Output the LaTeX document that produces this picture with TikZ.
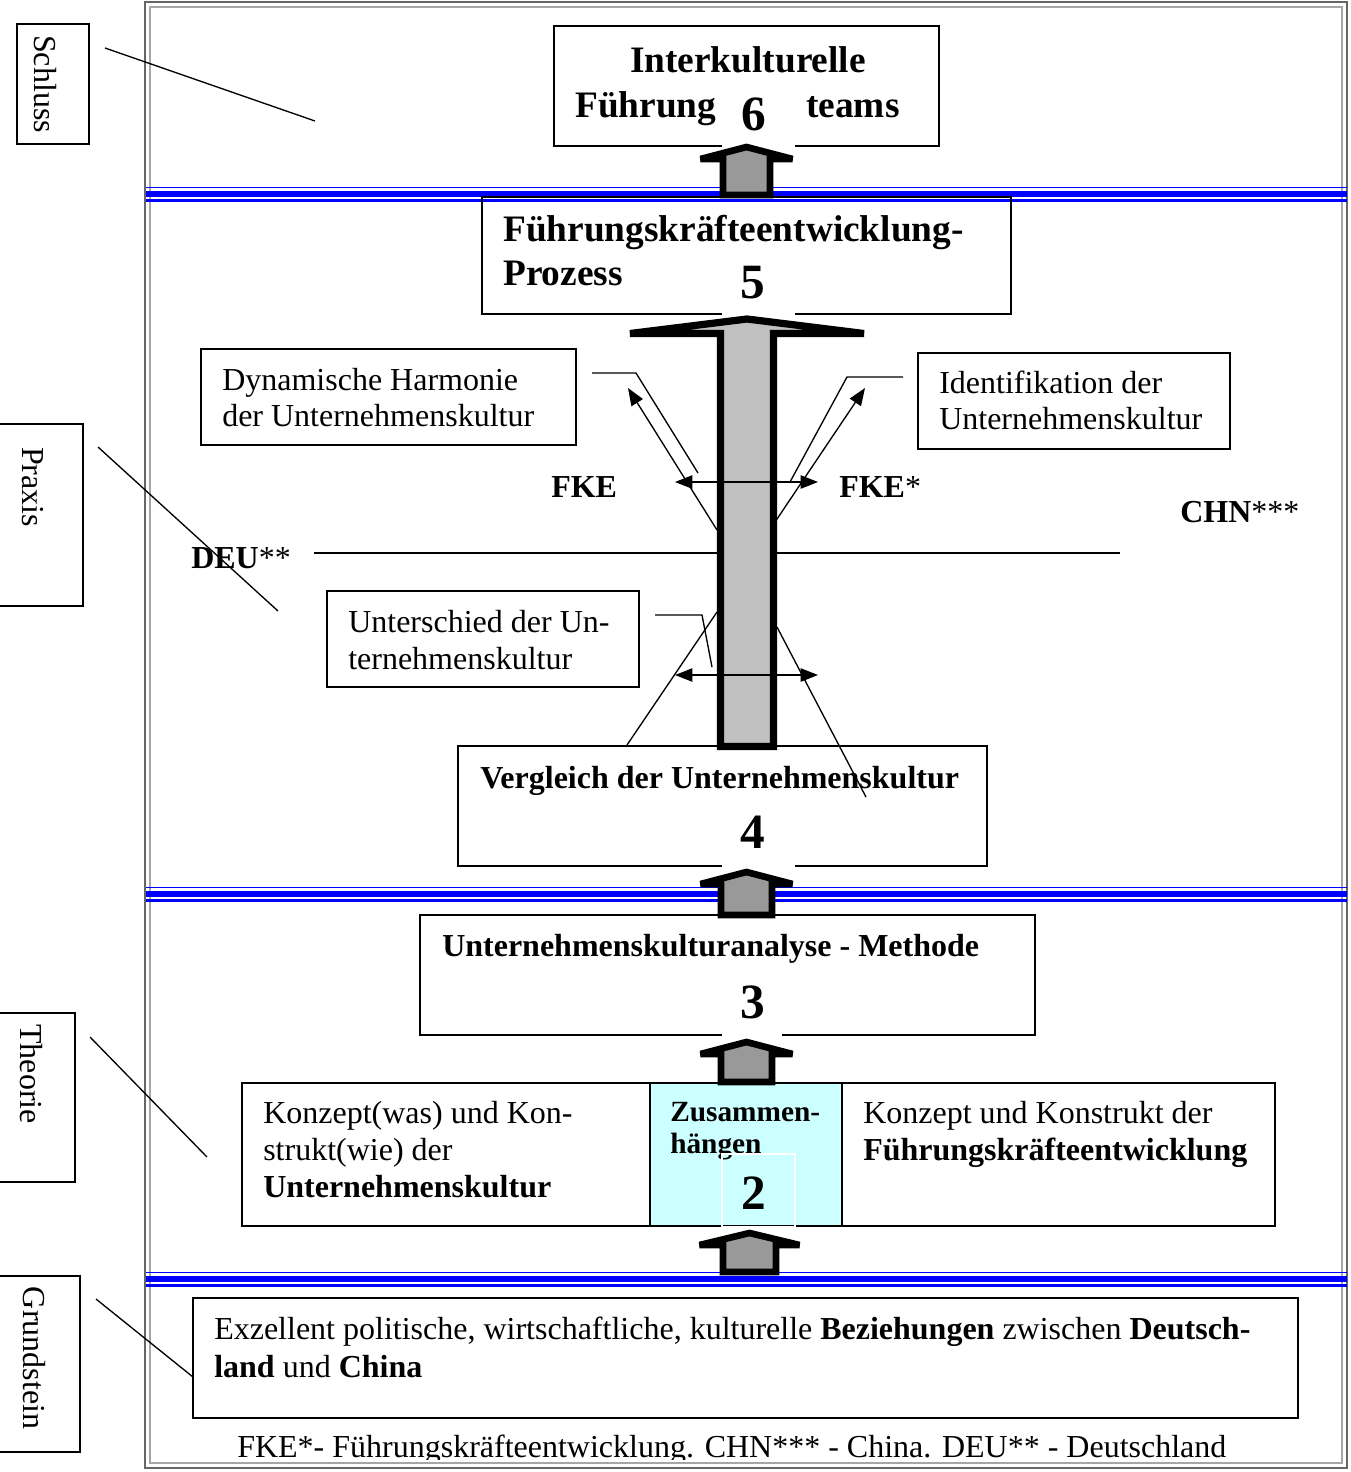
\documentclass[tikz,border=0pt]{standalone}
\usepackage{fontspec}
\setmainfont{Liberation Serif}
\usetikzlibrary{arrows.meta,fit}
\definecolor{armfill}{HTML}{999999}
\definecolor{bigfill}{HTML}{C0C0C0}
\definecolor{linkfill}{HTML}{CCFFFF}

% block arrow: #1 centre x, #2 apex y, #3 head base y, #4 bottom y,
% #5 half shaft width, #6 half head width, #7 stroke width, #8 fill colour
\newcommand\blockarrow[8]{%
  \draw[line width=#7, line join=miter, miter limit=3, fill=#8]
    ({#1-#5},{#4}) -- ({#1-#5},{#3}) -- ({#1-#6},{#3}) -- (#1,{#2})
    -- ({#1+#6},{#3}) -- ({#1+#5},{#3}) -- ({#1+#5},{#4}) -- cycle;}

\begin{document}
\begin{tikzpicture}[x=0.75pt,y=-0.75pt,
  box/.style={draw, line width=1.1pt, inner sep=0pt},
  txt/.style={font=\fontsize{24}{28}\selectfont, inner sep=0pt, anchor=base west},
  btxt/.style={txt, font=\fontsize{24}{28}\selectfont\bfseries},
  stxt/.style={txt, font=\fontsize{22}{26}\selectfont\bfseries},
  htxt/.style={txt, font=\fontsize{28}{33}\selectfont\bfseries},
  side/.style={font=\fontsize{24}{28}\selectfont, rotate=-90, inner sep=0pt},
  num/.style={font=\fontsize{37}{44}\selectfont\bfseries, inner sep=0pt},
  thin/.style={line width=1pt},
  tip/.style={-{Triangle[length=13pt,width=10pt]}},
  dbl/.style={{Triangle[length=13pt,width=10pt]}-{Triangle[length=13pt,width=10pt]}},
  gapline/.style={white, line width=1.3pt},
  band/.style={blue}
]
\useasboundingbox (0,0) rectangle (1351,1472);
\fill[white] (0,0) rectangle (1351,1472);

% page frame
\draw[black!60, line width=1pt] (145,2) rectangle (1347,1468);
\draw[black!35, line width=0.8pt] (150,7) rectangle (1342,1463);

% level separators
\foreach \y in {186.5,886.5,1271.5} {
  \draw[band, line width=1.4pt] (146,\y+1) -- (1347,\y+1);
  \draw[band, line width=4.4pt] (146,\y+7.5) -- (1347,\y+7.5);
  \draw[band, line width=1.6pt] (146,\y+14) -- (1347,\y+14);
}

% side labels
\node[box, fit={(17,24)(89,144)}] (schluss) {};
\node[side] at (45,84) {Schluss};
\node[box, fit={(-3,424)(83,606)}] (praxis) {};
\node[side] at (33,487) {Praxis};
\node[box, fit={(-3,1013)(75,1182)}] (theorie) {};
\node[side] at (31,1074) {Theorie};
\node[box, fit={(-3,1276)(80,1452)}] (grund) {};
\node[side] at (34,1358) {Grundstein};

\coordinate (ps1) at (105,48);   \coordinate (pe1) at (315,121);
\coordinate (ps2) at (98,447);   \coordinate (pe2) at (278,611);
\coordinate (ps3) at (90,1037);  \coordinate (pe3) at (207,1157);
\coordinate (ps4) at (96,1299);  \coordinate (pe4) at (193,1377);
\draw[thin] (ps1) -- (pe1);
\draw[thin] (ps2) -- (pe2);
\draw[thin] (ps3) -- (pe3);
\draw[thin] (ps4) -- (pe4);

% level 6
\node[box, line width=1.3pt, fit={(554,26)(939,146)}] (b6) {};
\node[htxt, anchor=base] (t6a) at (748,72) {Interkulturelle};
\node[htxt] (t6b) at (575,117) {Führung};
\node[htxt] (t6c) at (806,117) {teams};
\node[num] (n6) at (754,114.5) {6};
\draw[gapline] (722,146) -- (795,146);

% level 5
\node[box, line width=1.3pt, fit={(482,197)(1011,314)}] (b5) {};
\node[htxt] (t5a) at (503,241) {Führungskräfteentwicklung-};
\node[htxt] (t5b) at (503,285) {Prozess};
\node[num] (n5) at (753,283) {5};
\draw[gapline] (722,314) -- (795,314);

% practice level
\node[box, fit={(201,349)(576,445)}] (dyn) {};
\node[txt] at (222,390) {Dynamische Harmonie};
\node[txt] at (222,426) {der Unternehmenskultur};
\node[box, fit={(918,353)(1230,449)}] (ident) {};
\node[txt] at (939,393) {Identifikation der};
\node[txt] at (939,429) {Unternehmenskultur};
\node[box, fit={(327,591)(639,687)}] (unt) {};
\node[txt] at (348,632) {Unterschied der Un-};
\node[txt] at (348,669) {ternehmenskultur};

\node[btxt] (fke) at (551,497) {FKE};
\node[btxt] (fkes) at (839,497) {FKE\textmd{*}};
\node[btxt] (chn) at (1180,522) {CHN\textmd{***}};
\node[btxt] (deu) at (191,568) {DEU\textmd{**}};
\coordinate (deuR) at (314,553);
\coordinate (chnL) at (1120,553);
\draw[line width=1.8pt] (deuR) -- (chnL);

% level 4
\node[box, fit={(458,746)(987,866)}] (b4) {};
\node[btxt] (t4) at (480,788) {Vergleich der Unternehmenskultur};
\node[num] (n4) at (753,832) {4};
\draw[gapline] (722,866) -- (795,866);

% level 3
\node[box, fit={(420,915)(1035,1035)}] (b3) {};
\node[btxt] (t3) at (442,956) {Unternehmenskulturanalyse - Methode};
\node[num] (n3) at (753,1002) {3};
\draw[gapline] (722,1035) -- (782,1035);

% level 2
\node[box, fit={(242,1083)(650,1226)}] (b2l) {};
\node[box, fill=linkfill, fit={(650,1083)(842,1226)}] (b2m) {};
\node[box, fit={(842,1083)(1275,1226)}] (b2r) {};
\node[txt] at (263,1123) {Konzept(was) und Kon-};
\node[txt] at (263,1160) {strukt(wie) der};
\node[btxt] at (263,1197) {Unternehmenskultur};
\node[stxt] at (670,1121) {Zusammen-};
\node[stxt] at (670,1153) {hängen};
\node[txt] at (863,1123) {Konzept und Konstrukt der};
\node[btxt] at (863,1160) {Führungskräfteentwicklung};
\draw[white, line width=1.3pt] (722,1154) rectangle (795,1227);
\node[num] (n2) at (754,1193) {2};

% level 1
\node[box, line width=1.6pt, fit={(193,1298)(1298,1418)}] (b1) {};
\node[txt] at (214,1339) {Exzellent politische, wirtschaftliche, kulturelle \textbf{Beziehungen} zwischen \textbf{Deutsch-}};
\node[txt] at (214,1377) {\textbf{land} und \textbf{China}};

% footnote
\begin{scope}
  \clip (150,1420) rectangle (1342,1459);
  \node[txt] (foot) at (237,1457) {FKE*- Führungskräfteentwicklung. CHN*** - China. DEU** - Deutschland};
\end{scope}

% callouts and comparison arrows
\coordinate (c1a) at (592,373); \coordinate (c1b) at (636,373); \coordinate (c1c) at (698,473);
\coordinate (c2a) at (903,377); \coordinate (c2b) at (847,377); \coordinate (c2c) at (790,482);
\coordinate (c3a) at (655,615); \coordinate (c3b) at (702,615); \coordinate (c3c) at (712,667);
\draw[thin] (c1a) -- (c1b) -- (c1c);
\draw[thin] (c2a) -- (c2b) -- (c2c);
\draw[thin] (c3a) -- (c3b) -- (c3c);
\coordinate (ul0) at (717,530); \coordinate (ul1) at (628,388);
\coordinate (ur0) at (775,522); \coordinate (ur1) at (865,388);
\draw[thin, tip] (ul0) -- (ul1);
\draw[thin, tip] (ur0) -- (ur1);
\coordinate (ll0) at (717,612); \coordinate (ll1) at (627,745);
\coordinate (lr0) at (777,627); \coordinate (lr1) at (866,797);
\draw[thin] (ll0) -- (ll1);
\draw[thin] (lr0) -- (lr1);

% main arrow from level 4 to level 5
\blockarrow{747}{319}{333.5}{746.5}{26.5}{117}{5.4pt}{bigfill}

\coordinate (h1l) at (675,482); \coordinate (h1r) at (818,482);
\coordinate (h2l) at (675,675); \coordinate (h2r) at (818,675);
\draw[thin, dbl] (h1l) -- (h1r);
\draw[thin, dbl] (h2l) -- (h2r);

% arrows between levels
\blockarrow{746.5}{147}{159}{195}{23.5}{46}{5pt}{armfill}
\blockarrow{746.5}{872}{884}{915}{25.5}{46}{5pt}{armfill}
\blockarrow{746.5}{1042}{1054}{1082}{25.5}{46}{5pt}{armfill}
\blockarrow{749.5}{1233}{1245}{1272}{26.5}{50}{5pt}{armfill}
\end{tikzpicture}
\end{document}
